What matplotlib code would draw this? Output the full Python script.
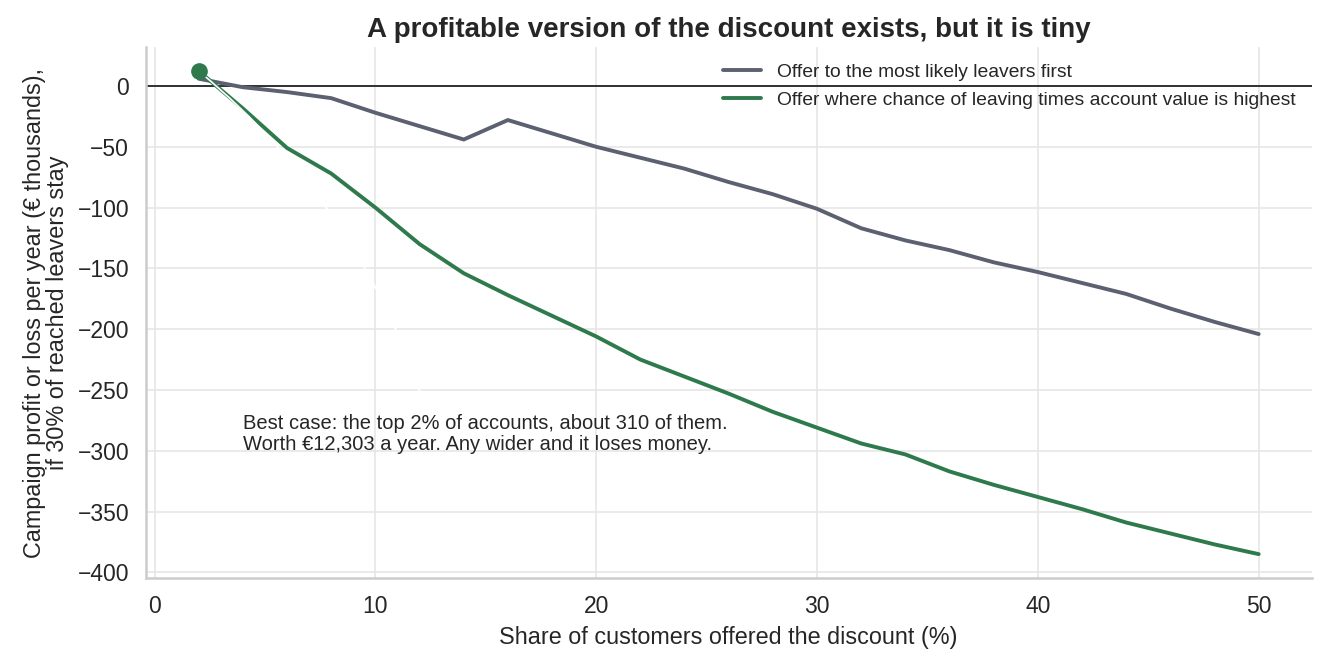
import matplotlib
matplotlib.use("Agg")
import matplotlib.pyplot as plt
import seaborn as sns
import numpy as np

# share of customers offered (%)
share = [2, 4, 6, 8, 10, 12, 14, 16, 18, 20, 22, 24, 26, 28, 30, 32, 34, 36, 38, 40, 42, 44, 46, 48, 50]

# campaign profit / loss, € thousands
likely_leavers = [6, -1, -5, -10, -22, -33, -44, -28, -39, -50, -59, -68, -79, -89, -101,
                  -117, -127, -135, -145, -153, -162, -171, -183, -194, -204]
risk_x_value = [12.3, -18.5, -51, -72, -100, -130, -154, -172, -189, -206, -225, -239, -253, -268, -281,
                -294, -303, -317, -328, -338, -348, -359, -368, -377, -385]

best_x = 2
best_y = 12.303

sns.set_theme(style="whitegrid")
plt.rcParams['font.family'] = ['Liberation Sans', 'DejaVu Sans']

fig = plt.figure(figsize=(13.26, 6.65), dpi=100)
ax = fig.add_axes([0.1099, 0.1304, 0.8793, 0.7991])

ax.plot(share, likely_leavers, color='#5b6170', lw=2.8, label='Offer to the most likely leavers first')
ax.plot(share, risk_x_value, color='#2e7a4c', lw=2.8,
        label='Offer where chance of leaving times account value is highest')
ax.axhline(0, color='#111111', lw=1.2, zorder=1.5)
ax.plot([best_x], [best_y], 'o', color='#2e7a4c', ms=11, zorder=4)

ax.annotate('Best case: the top 2% of accounts, about 310 of them.\n'
            'Worth €12,303 a year. Any wider and it loses money.',
            xy=(best_x, best_y), xytext=(4.0, -286), ha='left', va='center',
            fontsize=14.5, color='#262626', linespacing=1.15,
            arrowprops=dict(arrowstyle='-', color='white', lw=1.2, relpos=(0.38, 1.0),
                            connectionstyle='arc3,rad=0.15'))

ax.set_title('A profitable version of the discount exists, but it is tiny',
             fontsize=20, fontweight='bold', color='#262626', pad=7)
ax.set_xlabel('Share of customers offered the discount (%)', fontsize=16.8, color='#262626', labelpad=6)
ax.set_ylabel('Campaign profit or loss per year (€ thousands),\nif 30% of reached leavers stay',
              fontsize=16.8, color='#262626', labelpad=6, linespacing=1.0)
ax.tick_params(labelsize=16.5, colors='#262626', pad=6)

ax.legend(loc='upper right', frameon=False, fontsize=13.9, handlelength=2.0,
          borderaxespad=0.45, labelspacing=0.55)

sns.despine(ax=ax)
for s in ['left', 'bottom']:
    ax.spines[s].set_color('#cccccc')
    ax.spines[s].set_linewidth(1.8)
ax.grid(color='#e6e6e6', lw=1.2)

fig.savefig('out.png', dpi=100)
